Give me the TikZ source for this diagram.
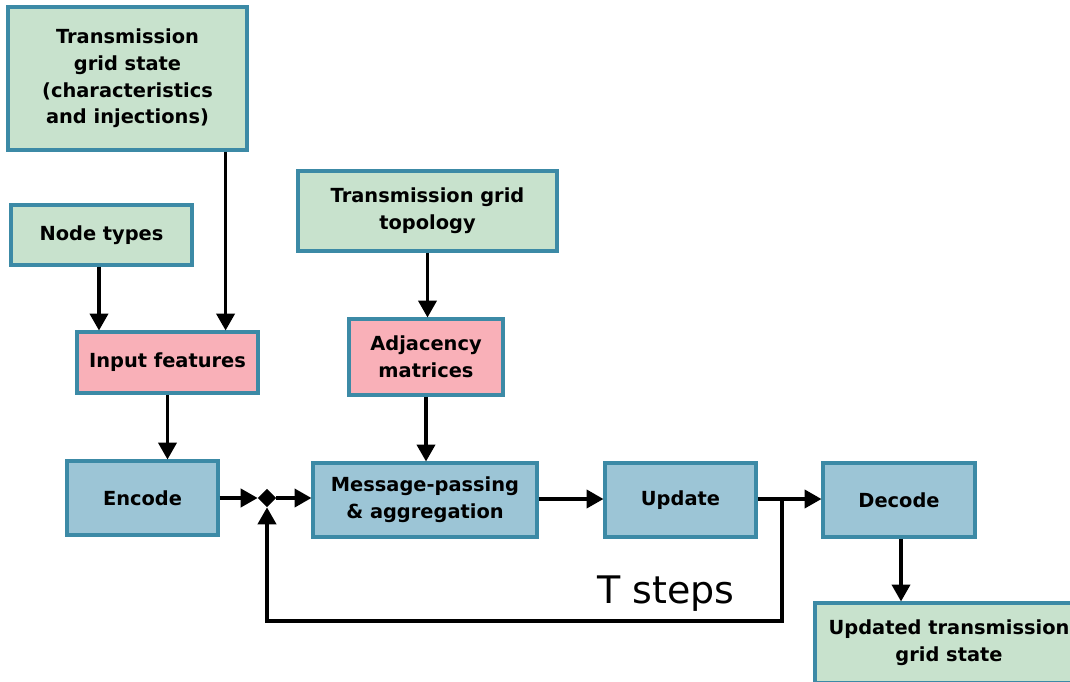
\documentclass[tikz,border=0pt]{standalone}
\usepackage{fontspec}
\setmainfont{DejaVu Sans}
\usepackage{xcolor}
\usepackage{tikz}
\usetikzlibrary{arrows.meta,shapes.geometric}

\definecolor{boxgreen}{HTML}{C8E2CD}
\definecolor{boxblue}{HTML}{9CC5D6}
\definecolor{boxpink}{HTML}{F9B0B8}
\definecolor{boxline}{HTML}{3C8AA6}

\tikzset{
  box/.style={rectangle,draw=boxline,line width=2.2pt,align=center,
    font=\fontsize{13.8}{19}\selectfont\bfseries,inner sep=2pt},
  green/.style={box,fill=boxgreen},
  blue/.style={box,fill=boxblue},
  pink/.style={box,fill=boxpink},
  arr/.style={line width=2.2pt,-{Triangle[width=13pt,length=12pt]}}
}

\begin{document}
\begin{tikzpicture}[x=0.025cm,y=-0.025cm]
            \useasboundingbox (0,0) rectangle (1070,682);
            \clip (0,0) rectangle (1070,682);
            \node [green,minimum width=5.975cm,minimum height=3.575cm] (S) at (127.5,78.5) {Transmission\\grid state\\(characteristics\\and injections)};
            \node [green,minimum width=4.525cm,minimum height=1.5cm] (NT) at (101.5,235) {Node types};
            \node [pink,minimum width=4.525cm,minimum height=1.525cm] (IF) at (167.5,362.5) {Input features};
            \node [green,minimum width=6.475cm,minimum height=2cm] (TG) at (427.5,211) {Transmission grid\\topology};
            \node [pink,minimum width=3.85cm,minimum height=1.9cm] (AM) at (426,357) {Adjacency\\matrices};

            \node [blue,minimum width=3.775cm,minimum height=1.85cm] (E) at (142.5,498) {Encode};
            \node [diamond,fill=black,inner sep=0pt,minimum size=13pt] (J) at (267,498) {};
            \node [blue,minimum width=5.6cm,minimum height=1.85cm] (M) at (425,500) {Message-passing\\\& aggregation};
            \node [blue,minimum width=3.775cm,minimum height=1.85cm] (U) at (680.5,500) {Update};
            \node [blue,minimum width=3.8cm,minimum height=1.85cm] (D) at (899,500) {Decode};
            \node [green,minimum width=6.7cm,minimum height=2cm] (O) at (949,643) {Updated transmission\\grid state};
            \node [font=\fontsize{27}{32}\selectfont] (T) at (666,594) {T steps};
            \coordinate (K) at (782,499);

            \draw[arr] ([xshift=-0.575cm]S.south east) -- ([xshift=-0.575cm]S.south east |- IF.north);
            \draw[arr] (NT.south -| 99,0) -- (IF.north -| 99,0);
            \draw[arr] (IF) -- (IF |- E.north);
            \draw[arr] (TG) -- (TG |- AM.north);
            \draw[arr] (AM) -- (AM |- M.north);

            \draw[arr] (E.east |- J) -- (J.west);
            \draw[arr] (J.east) -- (J -| M.west);
            \draw[arr] (M.east |- K) -- (U.west |- K);
            \draw[arr] (U.east |- K) -- (D.west |- K);
            \draw[arr] (K) -- ++(0,122) -| (J.south);
            \draw[arr] (D.south -| 901,0) -- (O.north -| 901,0);

        \end{tikzpicture}
\end{document}
